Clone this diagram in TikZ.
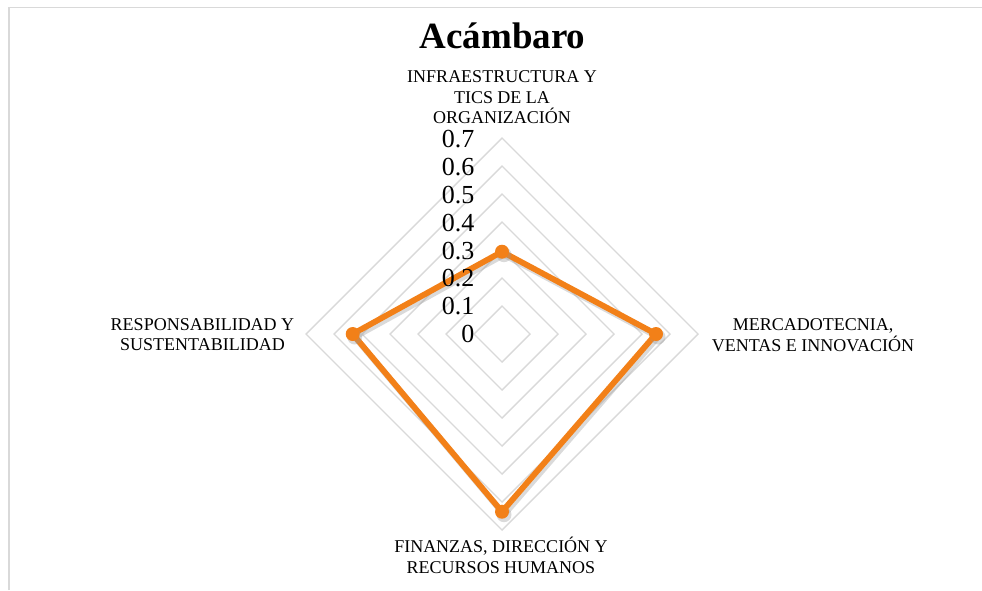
\documentclass[tikz,border=0pt]{standalone}
\usepackage{fontspec}
\setmainfont{Liberation Serif}
\usetikzlibrary{calc}
\definecolor{gridgray}{RGB}{217,217,217}
\definecolor{dataorange}{RGB}{242,128,24}
\definecolor{shadowgray}{RGB}{150,150,150}
\tikzset{
  gridline/.style={draw=gridgray, line width=1.4pt},
  dataline/.style={draw=dataorange, line width=5.8pt, line join=round},
  shadowline/.style={draw=shadowgray, line width=6pt, line join=round, opacity=0.35},
  marker/.style={circle, fill=dataorange, minimum size=14pt, inner sep=0pt},
  shadowmarker/.style={circle, fill=shadowgray, opacity=0.35, minimum size=15pt, inner sep=0pt},
  catlabel/.style={align=center, anchor=base, inner sep=0pt, font=\fontsize{18}{20.5}\selectfont},
  ticklabel/.style={anchor=base east, inner sep=0pt, font=\fontsize{26}{28}\selectfont},
}
\begin{document}
\begin{tikzpicture}[x=1pt, y=-1pt]
\useasboundingbox (0,0) rectangle (982,590);
% frame
\coordinate (fTL) at (9,7.5);
\coordinate (fTR) at (982,7.5);
\coordinate (fBL) at (9,590);
\draw[gridgray, line width=1.5pt] (fBL) -- (fTL) -- (fTR);
% center
\coordinate (c) at (502,334);
% grid diamonds
\foreach \k in {1,...,7} {
  \draw[gridline] ($(c)+(0,-28*\k)$) -- ($(c)+(28*\k,0)$) -- ($(c)+(0,28*\k)$) -- ($(c)+(-28*\k,0)$) -- cycle;
}
% data points
\coordinate (pT) at ($(c)+(0,-82.3)$);
\coordinate (pR) at ($(c)+(154,0)$);
\coordinate (pB) at ($(c)+(0,177.7)$);
\coordinate (pL) at ($(c)+(-149.3,0)$);
% shadow
\draw[shadowline] ([shift={(2,3)}]pT) -- ([shift={(2,3)}]pR) -- ([shift={(2,3)}]pB) -- ([shift={(2,3)}]pL) -- cycle;
\draw[dataline] (pT) -- (pR) -- (pB) -- (pL) -- cycle;
\foreach \p in {pT,pR,pB,pL} {
  \node[shadowmarker] at ([shift={(2,3)}]\p) {};
  \node[marker] (m\p) at (\p) {};
}
% tick labels
\foreach \k/\t in {0/0,1/0.1,2/0.2,3/0.3,4/0.4,5/0.5,6/0.6,7/0.7} {
  \node[ticklabel] (t\k) at (474.5,{342.7-27.9*\k}) {\t};
}
% title
\node[anchor=base, inner sep=0pt, font=\bfseries\fontsize{37}{40}\selectfont] (title) at (502.5,48) {Acámbaro};
% category labels (anchor = baseline of last line)
\node[catlabel] (lT) at (502,123.5) {INFRAESTRUCTURA Y\\TICS DE LA\\ORGANIZACIÓN};
\node[catlabel] (lR) at (813,351) {MERCADOTECNIA,\\VENTAS E INNOVACIÓN};
\node[catlabel] (lB) at (501,573) {FINANZAS, DIRECCIÓN Y\\RECURSOS HUMANOS};
\node[catlabel] (lL) at (202.5,350.7) {RESPONSABILIDAD Y\\SUSTENTABILIDAD};
\end{tikzpicture}
\end{document}
